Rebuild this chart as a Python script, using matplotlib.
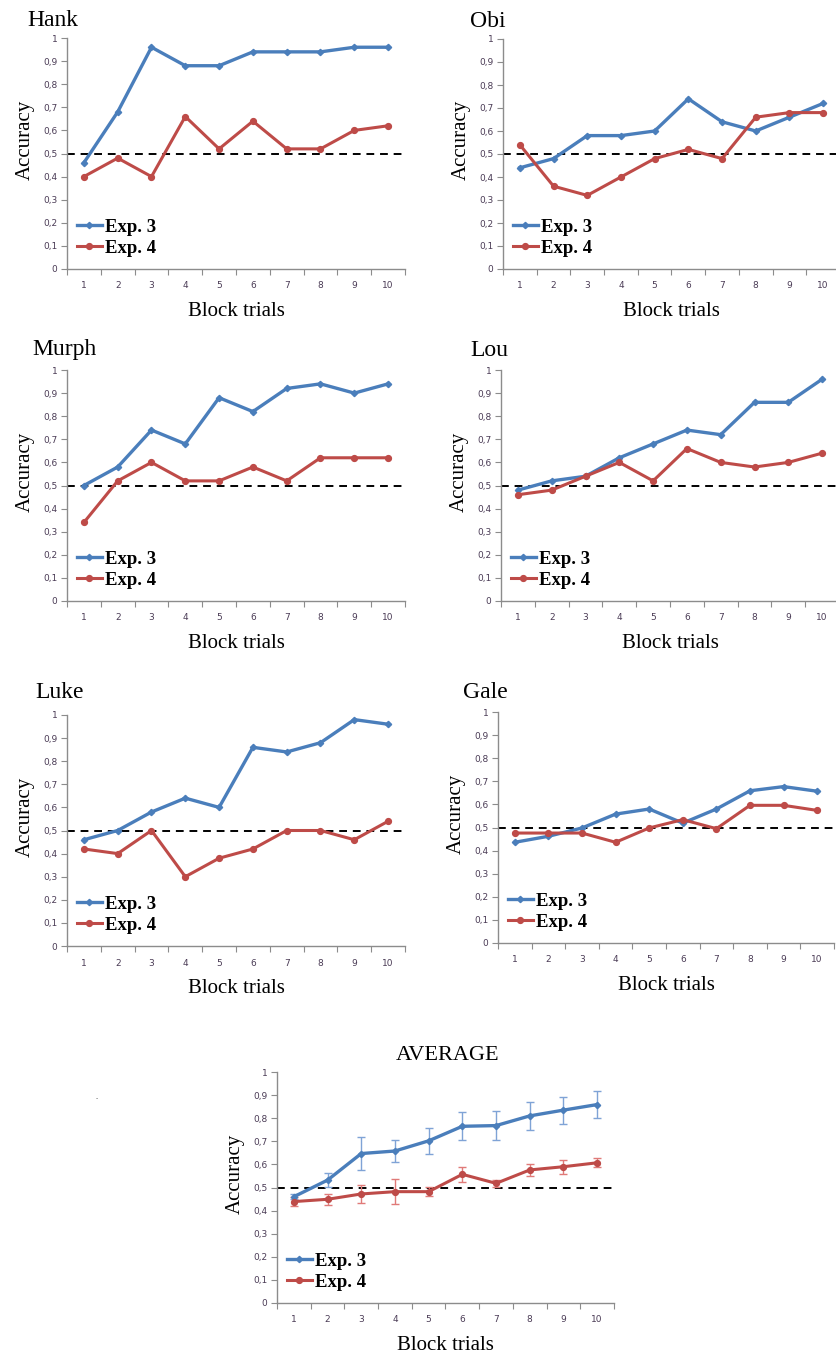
import numpy as np
import matplotlib
matplotlib.use('Agg')
import matplotlib.pyplot as plt
from matplotlib.lines import Line2D

plt.rcParams['font.family'] = 'Liberation Serif'

blocks = np.arange(1, 11)

names = ['Hank', 'Obi', 'Murph', 'Lou', 'Luke', 'Gale']

hank_e3 = [0.46, 0.68, 0.96, 0.88, 0.88, 0.94, 0.94, 0.94, 0.96, 0.96]
hank_e4 = [0.40, 0.48, 0.40, 0.66, 0.52, 0.64, 0.52, 0.52, 0.60, 0.62]

obi_e3 = [0.44, 0.48, 0.58, 0.58, 0.60, 0.74, 0.64, 0.60, 0.66, 0.72]
obi_e4 = [0.54, 0.36, 0.32, 0.40, 0.48, 0.52, 0.48, 0.66, 0.68, 0.68]

murph_e3 = [0.50, 0.58, 0.74, 0.68, 0.88, 0.82, 0.92, 0.94, 0.90, 0.94]
murph_e4 = [0.34, 0.52, 0.60, 0.52, 0.52, 0.58, 0.52, 0.62, 0.62, 0.62]

lou_e3 = [0.48, 0.52, 0.54, 0.62, 0.68, 0.74, 0.72, 0.86, 0.86, 0.96]
lou_e4 = [0.46, 0.48, 0.54, 0.60, 0.52, 0.66, 0.60, 0.58, 0.60, 0.64]

luke_e3 = [0.46, 0.50, 0.58, 0.64, 0.60, 0.86, 0.84, 0.88, 0.98, 0.96]
luke_e4 = [0.42, 0.40, 0.50, 0.30, 0.38, 0.42, 0.50, 0.50, 0.46, 0.54]

gale_e3 = [0.436, 0.462, 0.498, 0.558, 0.580, 0.519, 0.580, 0.659, 0.677, 0.657]
gale_e4 = [0.476, 0.476, 0.476, 0.436, 0.498, 0.534, 0.495, 0.596, 0.596, 0.574]

avg_e3 = [0.460, 0.532, 0.647, 0.658, 0.702, 0.765, 0.768, 0.810, 0.835, 0.859]
avg_e3_err = [0.010, 0.030, 0.070, 0.047, 0.055, 0.060, 0.063, 0.060, 0.058, 0.057]
avg_e4 = [0.439, 0.449, 0.472, 0.482, 0.482, 0.557, 0.518, 0.576, 0.590, 0.607]
avg_e4_err = [0.020, 0.023, 0.040, 0.055, 0.020, 0.033, 0.015, 0.025, 0.030, 0.020]

series = [(hank_e3, hank_e4), (obi_e3, obi_e4), (murph_e3, murph_e4),
          (lou_e3, lou_e4), (luke_e3, luke_e4), (gale_e3, gale_e4)]

ytick_vals = np.round(np.arange(0, 1.01, 0.1), 1)
ytick_labels = ['0', '0,1', '0,2', '0,3', '0,4', '0,5', '0,6', '0,7', '0,8', '0,9', '1']

BLUE = '#4a7ebb'
RED = '#be4b48'
TICKC = '#4a3b55'
W, H = 837, 1355

fig = plt.figure(figsize=(W / 100, H / 100), dpi=100)


def px_axes(left, top, right, bottom):
    return fig.add_axes([left / W, 1 - bottom / H, (right - left) / W, (bottom - top) / H])


def style(ax):
    ax.set_xlim(0.5, 10.5)
    ax.set_ylim(0, 1)
    for s in ['top', 'right']:
        ax.spines[s].set_visible(False)
    for s in ['left', 'bottom']:
        ax.spines[s].set_color('#8c8c8c')
        ax.spines[s].set_linewidth(1.0)
    ax.set_yticks(ytick_vals)
    ax.set_yticklabels(ytick_labels, family='DejaVu Sans')
    ax.tick_params(axis='y', direction='out', length=4, color='#8c8c8c',
                   labelsize=6.5, labelcolor=TICKC, pad=3)
    # category boundaries get the tick marks, labels sit in between
    ax.set_xticks(np.arange(0.5, 11, 1))
    ax.set_xticklabels([])
    ax.set_xticks(blocks, minor=True)
    ax.set_xticklabels([str(b) for b in blocks], minor=True, family='DejaVu Sans')
    ax.tick_params(axis='x', which='major', direction='out', length=4, color='#8c8c8c')
    ax.tick_params(axis='x', which='minor', length=0, labelsize=6.5,
                   labelcolor=TICKC, pad=9)
    ax.axhline(0.5, color='black', ls=(0, (4, 3)), lw=1.4, zorder=1)
    ax.set_xlabel('Block trials', fontsize=15, labelpad=8)
    ax.set_ylabel('Accuracy', fontsize=15)
    ax.yaxis.set_label_coords(-0.095, 0.56)


def legend(ax):
    handles = [Line2D([], [], color=BLUE, lw=2.4, marker='D', ms=3.2),
               Line2D([], [], color=RED, lw=2.2, marker='o', ms=4.2)]
    ax.legend(handles, ['Exp. 3', 'Exp. 4'], loc='lower left',
              bbox_to_anchor=(-0.01, -0.005), frameon=False,
              handlelength=1.35, handletextpad=0.15, labelspacing=0.22,
              borderaxespad=0.3, prop={'family': 'Liberation Serif',
                                       'weight': 'bold', 'size': 13.5})


boxes = [(67, 38, 405, 269), (503, 39, 840, 269),
         (67, 370, 405, 601), (501, 370, 839, 601),
         (67, 715, 405, 946), (498, 712, 834, 943)]
title_pos = [(27, 26), (470, 27), (32, 355), (470, 356), (35, 698), (463, 698)]

for name, (e3, e4), box, tp in zip(names, series, boxes, title_pos):
    ax = px_axes(*box)
    style(ax)
    ax.plot(blocks, e3, color=BLUE, lw=2.4, marker='D', ms=3.2, zorder=3)
    ax.plot(blocks, e4, color=RED, lw=2.2, marker='o', ms=4.2, zorder=3)
    legend(ax)
    fig.text(tp[0] / W, 1 - tp[1] / H, name, fontsize=17, ha='left', va='baseline')

# average panel with error bars
ax = px_axes(277, 1072, 614, 1303)
style(ax)
ax.errorbar(blocks, avg_e3, yerr=avg_e3_err, color=BLUE, lw=2.4, marker='D', ms=3.2,
            elinewidth=1.0, ecolor='#7fa3d6', capsize=3, zorder=3)
ax.errorbar(blocks, avg_e4, yerr=avg_e4_err, color=RED, lw=2.2, marker='o', ms=4.2,
            elinewidth=1.0, ecolor='#e07a78', capsize=3, zorder=3)
legend(ax)
fig.text(448 / W, 1 - 1060 / H, 'AVERAGE', fontsize=16, ha='center', va='baseline')
fig.text(97 / W, 1 - 1099 / H, '.', fontsize=6, color='#333333', ha='center')

fig.savefig('out.png', dpi=100, facecolor='white')
